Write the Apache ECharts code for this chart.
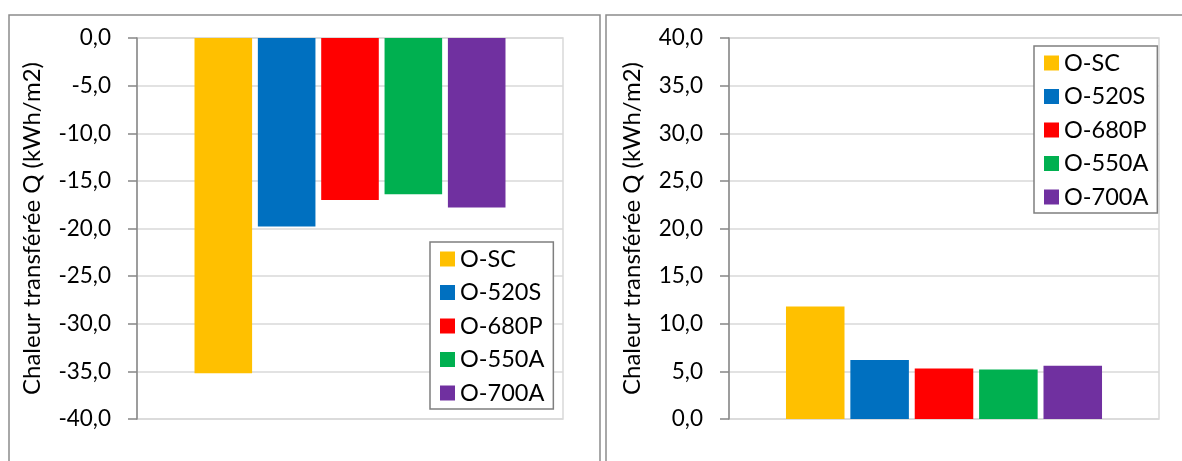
<!DOCTYPE html>
<html>
<head>
<meta charset="utf-8">
<script src="https://cdn.jsdelivr.net/npm/echarts@6/dist/echarts.min.js"></script>
<style>
  html, body { margin: 0; padding: 0; background: #ffffff; }
  #chart { width: 1182px; height: 461px; }
</style>
</head>
<body>
<div id="chart"></div>
<script>
// ---- Data ----
const seriesNames = ['O-SC', 'O-520S', 'O-680P', 'O-550A', 'O-700A'];
const seriesColors = ['#FFC000', '#0070C0', '#FF0000', '#00B050', '#7030A0'];
const heatLoss = [-35.2, -19.8, -17.0, -16.4, -17.8];   // left chart
const heatGain = [11.8, 6.2, 5.3, 5.2, 5.6];            // right chart
const axisTitle = 'Chaleur transférée Q (kWh/m2)';
const leftAxisRange = [-40, 0];
const rightAxisRange = [0, 40];
const tickStep = 5;

const FONT = 'Lato';
const fmt = v => v.toFixed(1).replace('.', ',');

function yAxisFor(gridIndex, range, nameGap) {
  return {
    type: 'value', gridIndex: gridIndex,
    min: range[0], max: range[1], interval: tickStep,
    name: axisTitle, nameLocation: 'middle', nameGap: nameGap,
    nameTextStyle: { fontFamily: FONT, fontSize: 24, color: '#000' },
    axisLine: { show: true, lineStyle: { color: '#868686', width: 1.5 } },
    axisTick: { show: true, length: 9, lineStyle: { color: '#868686', width: 1.5 } },
    axisLabel: { formatter: fmt, fontFamily: FONT, fontSize: 22.5, color: '#000', margin: 26 },
    splitLine: { show: true, lineStyle: { color: '#d9d9d9', width: 1.5 } }
  };
}
function xAxisFor(gridIndex) {
  return {
    type: 'category', gridIndex: gridIndex, data: [''],
    axisLine: { show: false }, axisTick: { show: false }, axisLabel: { show: false },
    splitLine: { show: false }
  };
}
function legendFor(left, top) {
  return {
    data: seriesNames, orient: 'vertical', left: left, top: top,
    itemWidth: 15, itemHeight: 15, itemGap: 9.5,
    padding: [5, 9, 4, 10],
    backgroundColor: '#fff', borderColor: '#7f7f7f', borderWidth: 1.5,
    icon: 'rect',
    textStyle: { fontFamily: FONT, fontSize: 23.5, color: '#000' }
  };
}

const series = [];
seriesNames.forEach((n, i) => {
  series.push({ type: 'bar', name: n, xAxisIndex: 0, yAxisIndex: 0, data: [heatLoss[i]],
    itemStyle: { color: seriesColors[i] }, barGap: '10%', barCategoryGap: '27%' });
});
seriesNames.forEach((n, i) => {
  series.push({ type: 'bar', name: n, xAxisIndex: 1, yAxisIndex: 1, data: [heatGain[i]],
    itemStyle: { color: seriesColors[i] }, barGap: '10%', barCategoryGap: '26.5%' });
});

const chart = echarts.init(document.getElementById('chart'), null, { renderer: 'canvas' });
chart.setOption({
  animation: false,
  backgroundColor: '#fff',
  grid: [
    { left: 137, top: 38, width: 426, height: 381, show: true, borderColor: '#d9d9d9', borderWidth: 1.5, backgroundColor: 'transparent' },
    { left: 729, top: 38, width: 430, height: 381, show: true, borderColor: '#d9d9d9', borderWidth: 1.5, backgroundColor: 'transparent' }
  ],
  xAxis: [xAxisFor(0), xAxisFor(1)],
  yAxis: [yAxisFor(0, leftAxisRange, 93), yAxisFor(1, rightAxisRange, 85)],
  legend: [legendFor(430, 242), legendFor(1034, 46)],
  series: series,
  graphic: [
    { type: 'rect', shape: { x: 9, y: 15, width: 591, height: 520 }, style: { fill: 'none', stroke: '#8c8c8c', lineWidth: 1.5 }, silent: true },
    { type: 'rect', shape: { x: 606, y: 15, width: 620, height: 520 }, style: { fill: 'none', stroke: '#8c8c8c', lineWidth: 1.5 }, silent: true }
  ]
});
</script>
</body>
</html>
